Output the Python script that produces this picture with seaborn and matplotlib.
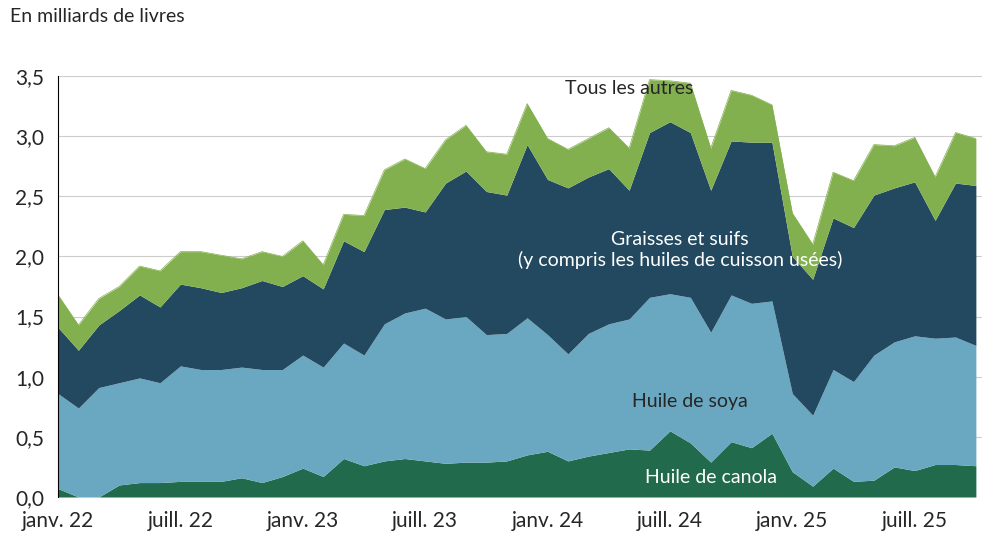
import numpy as np
import pandas as pd
import matplotlib.pyplot as plt
import seaborn as sns

# cumulative tops (milliards de livres)
canola_top = [0.07, 0.0, 0.0, 0.10, 0.12, 0.12, 0.13, 0.13, 0.13, 0.16, 0.12, 0.17,
              0.24, 0.17, 0.32, 0.26, 0.30, 0.32, 0.30, 0.28, 0.29, 0.29, 0.30, 0.35,
              0.38, 0.30, 0.34, 0.37, 0.40, 0.39, 0.55, 0.45, 0.29, 0.46, 0.41, 0.53,
              0.21, 0.09, 0.24, 0.13, 0.14, 0.25, 0.22, 0.27, 0.27, 0.26]
soy_top = [0.86, 0.74, 0.91, 0.95, 0.99, 0.95, 1.09, 1.06, 1.06, 1.08, 1.06, 1.06,
           1.18, 1.08, 1.28, 1.18, 1.44, 1.53, 1.57, 1.48, 1.50, 1.35, 1.36, 1.49,
           1.35, 1.19, 1.36, 1.44, 1.48, 1.66, 1.69, 1.66, 1.37, 1.68, 1.61, 1.63,
           0.86, 0.68, 1.06, 0.96, 1.18, 1.29, 1.34, 1.32, 1.33, 1.26]
fats_top = [1.41, 1.22, 1.43, 1.55, 1.68, 1.58, 1.77, 1.74, 1.70, 1.74, 1.80, 1.75,
            1.84, 1.73, 2.13, 2.04, 2.39, 2.41, 2.37, 2.61, 2.71, 2.54, 2.51, 2.93,
            2.64, 2.57, 2.66, 2.73, 2.55, 3.03, 3.12, 3.03, 2.55, 2.96, 2.95, 2.95,
            2.00, 1.81, 2.32, 2.24, 2.51, 2.57, 2.62, 2.30, 2.61, 2.59]
total = [1.68, 1.43, 1.65, 1.75, 1.92, 1.88, 2.04, 2.04, 2.01, 1.98, 2.04, 2.00,
         2.13, 1.93, 2.35, 2.34, 2.72, 2.81, 2.73, 2.97, 3.09, 2.87, 2.85, 3.27,
         2.98, 2.89, 2.98, 3.07, 2.90, 3.47, 3.46, 3.44, 2.90, 3.38, 3.34, 3.26,
         2.36, 2.10, 2.70, 2.63, 2.93, 2.92, 2.99, 2.66, 3.03, 2.98]
tick_labels = ["janv. 22", "juill. 22", "janv. 23", "juill. 23", "janv. 24",
               "juill. 24", "janv. 25", "juill. 25"]

df = pd.DataFrame({"canola": canola_top, "soy": soy_top, "fats": fats_top, "total": total})
df["month"] = np.arange(len(df))

sns.set_style("white")
plt.rcParams["font.family"] = ["Lato", "DejaVu Sans"]

fig = plt.figure(figsize=(9.92, 5.58), dpi=100)
ax = fig.add_axes([58 / 992, 1 - 497 / 558, 924 / 992, 421 / 558])

c_canola, c_soy, c_fats, c_other = "#216a4b", "#6aa7c0", "#22495f", "#83b04e"
x = df["month"]
ax.fill_between(x, 0, df["canola"], color=c_canola, lw=0, zorder=3)
ax.fill_between(x, df["canola"], df["soy"], color=c_soy, lw=0, zorder=3)
ax.fill_between(x, df["soy"], df["fats"], color=c_fats, lw=0, zorder=3)
ax.fill_between(x, df["fats"], df["total"], color=c_other, lw=0, zorder=3)
sns.lineplot(data=df, x="month", y="total", ax=ax, color=c_other, lw=0.5, zorder=3)

ax.set_xlim(0, len(df) - 0.7)
ax.set_ylim(0, 3.5)
ax.set_yticks(np.arange(0, 3.51, 0.5))
ax.set_yticklabels([f"{v:.1f}".replace(".", ",") for v in np.arange(0, 3.51, 0.5)], fontsize=15)
ax.set_xticks(np.arange(0, len(df), 6))
ax.set_xticklabels(tick_labels, fontsize=15)
ax.tick_params(axis="both", length=0, pad=10)
ax.grid(axis="y", color="#cccccc", lw=0.8, zorder=0)
ax.set_axisbelow(True)
for s in ["top", "right", "bottom"]:
    ax.spines[s].set_visible(False)
ax.spines["left"].set_color("black")
ax.spines["left"].set_zorder(4)
ax.set_xlabel("")
ax.set_ylabel("")

ax.text(28, 3.4, "Tous les autres", ha="center", va="center", fontsize=14, zorder=5)
ax.text(30.5, 2.05, "Graisses et suifs\n(y compris les huiles de cuisson usées)",
        ha="center", va="center", fontsize=14, color="white", zorder=5)
ax.text(31, 0.79, "Huile de soya", ha="center", va="center", fontsize=14, zorder=5)
ax.text(32, 0.16, "Huile de canola", ha="center", va="center", fontsize=14, color="white", zorder=5)
fig.text(10 / 992, 1 - 17 / 558, "En milliards de livres", ha="left", va="center", fontsize=14)

fig.savefig("out.png", dpi=100)
